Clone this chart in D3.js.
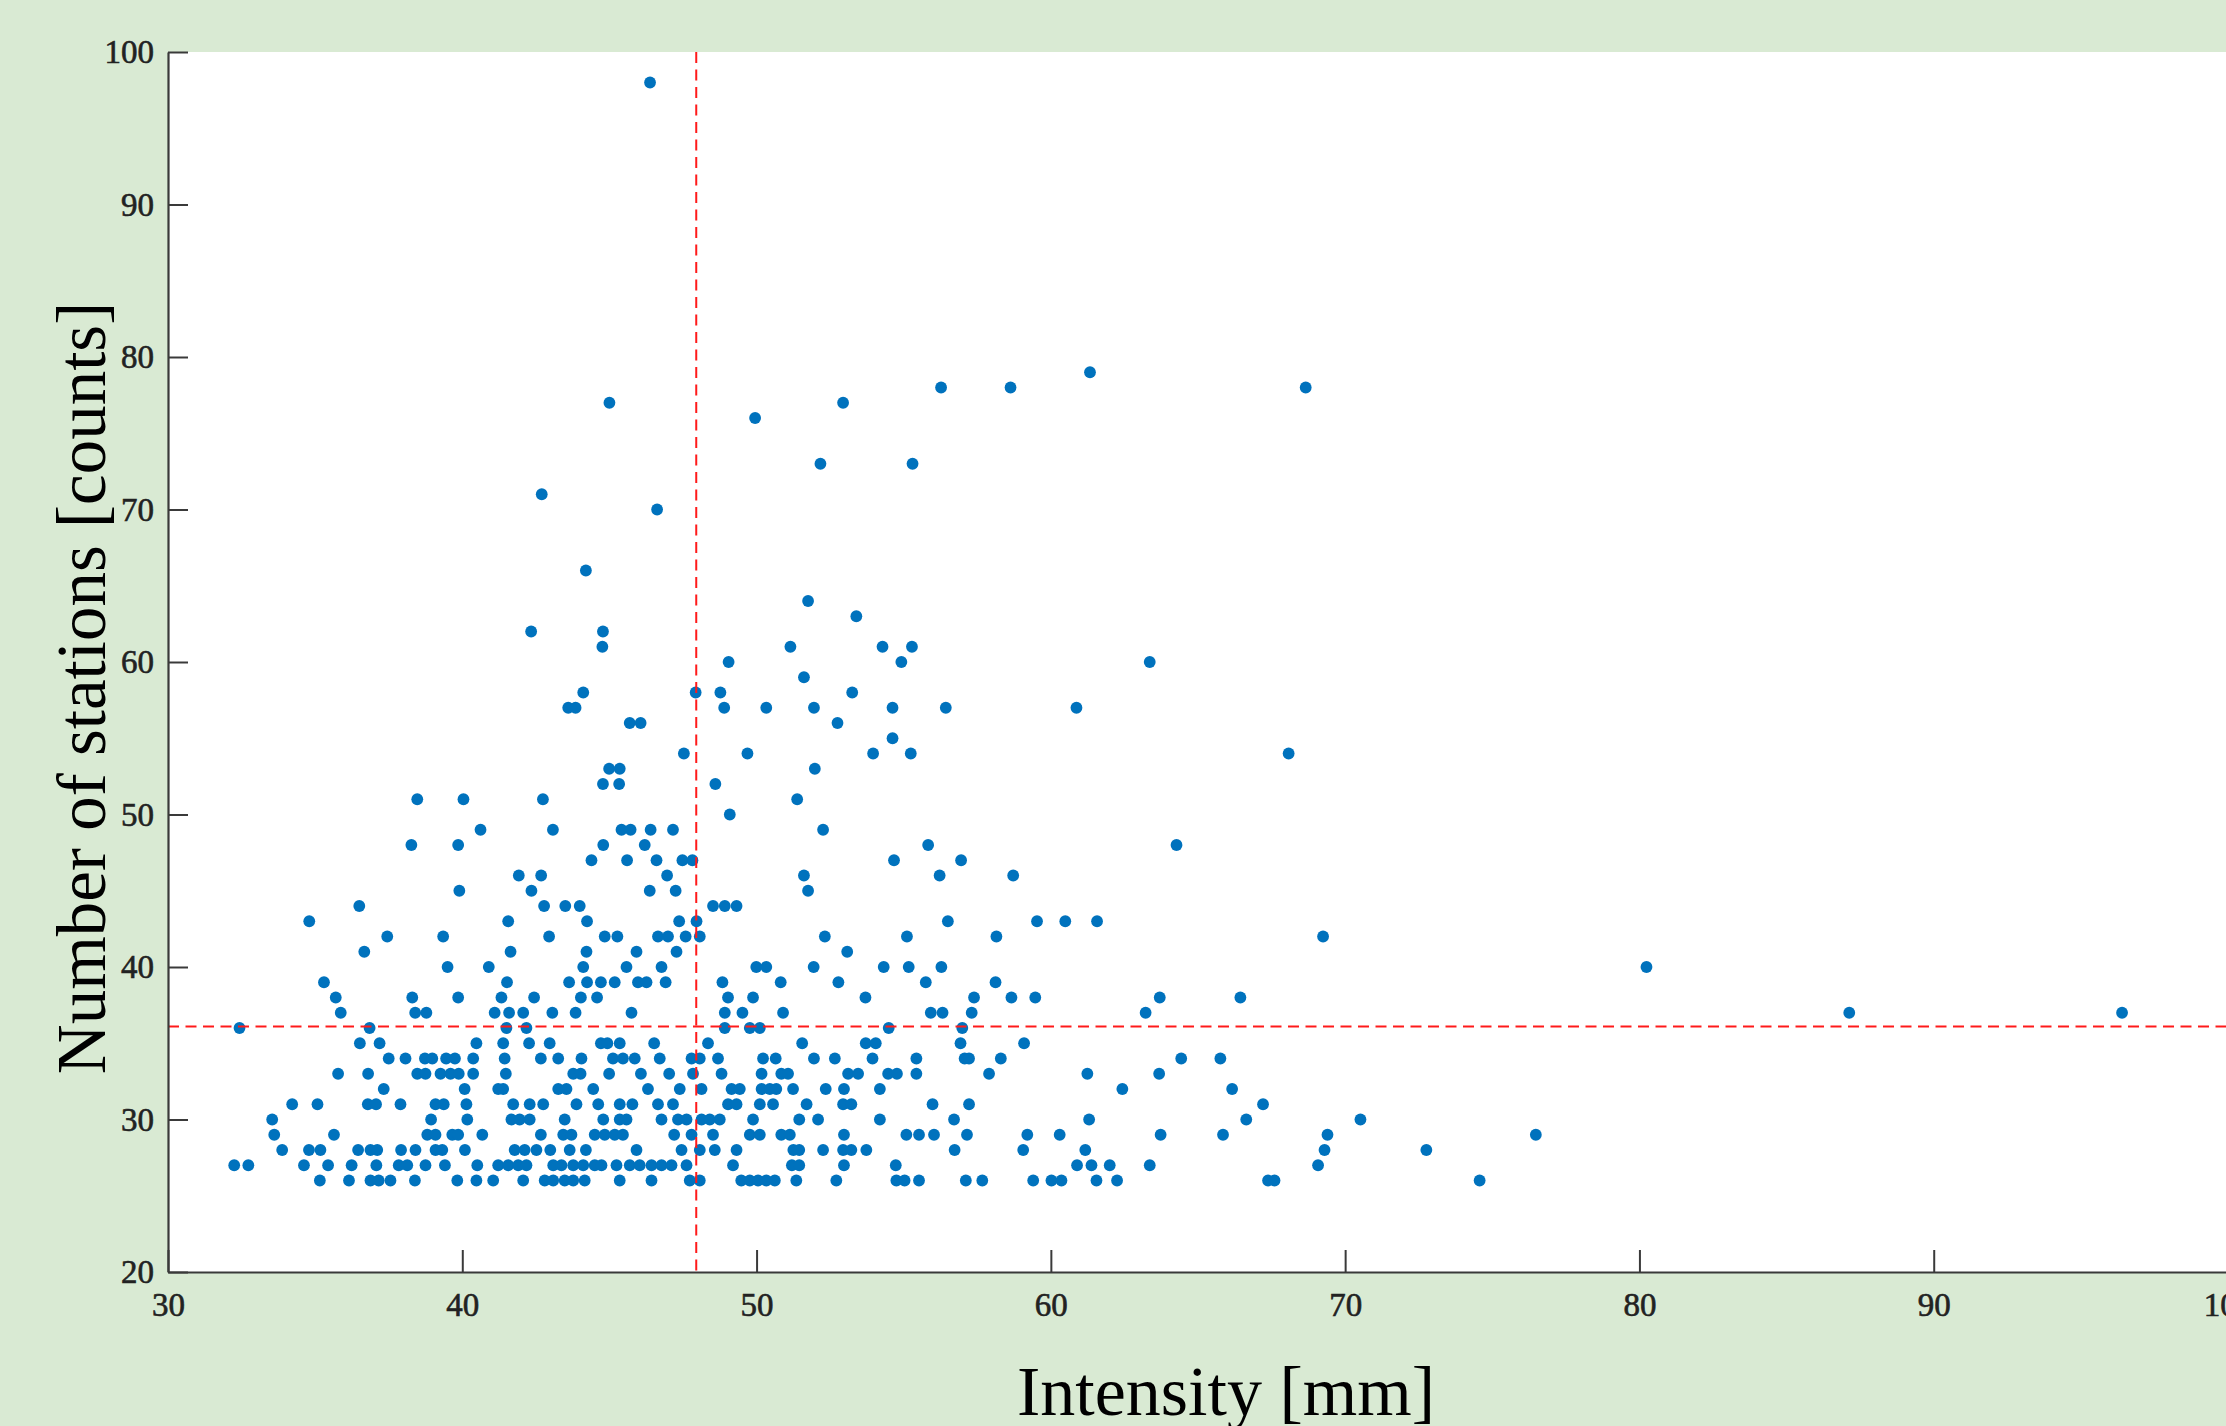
<!DOCTYPE html>
<html>
<head>
<meta charset="utf-8">
<script src="https://cdn.jsdelivr.net/npm/d3@7"></script>
<style>
  body { margin: 0; background: #d9ead3; overflow: hidden; }
  svg { display: block; }
  .tick text { font-family: "Liberation Serif", "Times New Roman", serif; font-size: 33px; fill: #222; stroke: #222; stroke-width: 0.6px; }
</style>
</head>
<body>
<svg id="chart" width="2226" height="1426"></svg>
<script>
// station counts (y) and the intensities (x) read for each count
const stationCounts = [26, 27, 28, 29, 30, 31, 32, 33, 34, 35, 36, 37, 38, 39, 40, 41, 42, 43, 44, 45,
  46, 47, 48, 49, 50, 51, 52, 53, 54, 55, 56, 57, 58, 59, 60, 61, 62, 63, 64, 66, 70, 71, 73, 76, 77, 78, 79, 98];

const intensityRows = [
  /*26*/ [35.16, 36.15, 36.88, 37.16, 37.56, 38.39, 39.83, 40.48, 41.05, 42.07, 42.8, 43.09, 43.48, 43.77, 44.16, 45.35, 46.43, 47.73, 48.07, 49.48, 49.77, 50.05, 50.33, 50.62, 51.35, 52.71, 54.75, 55.03, 55.52, 57.11, 57.67, 59.4, 60.02, 60.36, 61.55, 62.25, 67.38, 67.6, 74.57],
  /*27*/ [32.25, 32.73, 34.62, 35.44, 36.24, 37.08, 37.84, 38.13, 38.75, 39.41, 40.51, 41.22, 41.56, 41.9, 42.18, 43.09, 43.37, 43.77, 44.11, 44.5, 44.73, 45.24, 45.69, 46.03, 46.43, 46.77, 47.11, 47.62, 49.2, 51.2, 51.45, 52.97, 54.73, 60.89, 61.38, 62.0, 63.36, 69.08],
  /*28*/ [33.88, 34.79, 35.18, 36.46, 36.88, 37.11, 37.92, 38.41, 39.09, 39.32, 40.09, 41.78, 42.12, 42.52, 42.99, 43.65, 44.2, 45.92, 47.45, 48.07, 48.58, 49.32, 51.25, 51.45, 52.26, 52.94, 53.22, 53.73, 56.73, 59.06, 61.17, 69.3, 72.76],
  /*29*/ [33.61, 35.64, 38.81, 39.09, 39.66, 39.86, 40.68, 42.67, 43.43, 43.71, 44.5, 44.84, 45.18, 45.46, 47.2, 47.79, 48.52, 49.77, 50.11, 50.84, 51.13, 52.97, 55.09, 55.52, 56.03, 57.15, 59.2, 60.3, 63.73, 65.85, 69.4, 76.48],
  /*30*/ [33.54, 38.94, 40.17, 41.67, 41.95, 42.29, 43.48, 44.79, 45.35, 45.58, 46.77, 47.33, 47.62, 48.13, 48.41, 48.75, 49.88, 51.45, 52.09, 54.19, 56.71, 61.3, 66.64, 70.52],
  /*31*/ [34.22, 35.08, 36.79, 37.07, 37.9, 39.09, 39.37, 40.14, 41.73, 42.29, 42.75, 43.88, 44.62, 45.35, 45.78, 46.65, 47.16, 49.03, 49.32, 50.11, 50.56, 51.7, 52.94, 53.22, 55.98, 57.22, 67.21],
  /*32*/ [37.33, 40.08, 41.22, 41.39, 43.26, 43.54, 44.45, 46.31, 47.39, 48.13, 49.15, 49.43, 50.17, 50.45, 50.67, 51.24, 52.35, 52.97, 54.19, 62.43, 66.16],
  /*33*/ [35.78, 36.8, 38.47, 38.75, 39.26, 39.6, 39.88, 40.37, 41.48, 43.77, 44.02, 44.99, 46.07, 47.03, 47.84, 48.81, 50.17, 50.84, 51.07, 53.11, 53.45, 54.47, 54.77, 55.43, 57.9, 61.24, 63.68],
  /*34*/ [37.5, 38.07, 38.73, 38.98, 39.45, 39.75, 40.37, 41.44, 42.67, 43.26, 44.05, 45.12, 45.46, 45.86, 46.71, 47.79, 48.07, 48.69, 50.22, 50.65, 51.95, 52.66, 53.94, 55.43, 57.07, 57.22, 58.3, 64.43, 65.76],
  /*35*/ [36.52, 37.19, 40.48, 41.39, 42.27, 42.97, 44.71, 44.93, 45.35, 46.52, 48.35, 51.55, 53.71, 54.05, 56.93, 59.09],
  /*36*/ [32.43, 36.85, 41.5, 42.18, 48.92, 49.77, 50.11, 54.49, 56.99],
  /*37*/ [35.87, 38.4, 38.78, 41.1, 41.59, 42.07, 43.06, 43.85, 45.75, 48.92, 49.52, 50.9, 55.92, 56.32, 57.31, 63.22, 87.13, 96.4],
  /*38*/ [35.7, 38.3, 39.86, 41.33, 42.44, 44.03, 44.58, 49.03, 49.88, 53.7, 57.39, 58.66, 59.47, 63.7, 66.44],
  /*39*/ [35.3, 41.52, 43.63, 44.24, 44.71, 45.18, 45.97, 46.26, 46.91, 48.84, 50.82, 52.78, 55.75, 58.12],
  /*40*/ [39.5, 40.9, 44.11, 45.58, 46.77, 49.99, 50.33, 51.94, 54.32, 55.17, 56.28, 80.24],
  /*41*/ [36.67, 41.64, 44.22, 45.92, 47.28, 53.08],
  /*42*/ [37.45, 39.35, 42.95, 44.84, 45.27, 46.65, 46.99, 47.59, 48.07, 52.32, 55.11, 58.15, 69.25],
  /*43*/ [34.8, 41.56, 44.24, 47.37, 47.96, 56.5, 59.53, 60.49, 61.57],
  /*44*/ [36.5, 42.78, 43.5, 43.99, 48.52, 48.92, 49.32],
  /*45*/ [39.9, 42.35, 46.37, 47.25, 51.75],
  /*46*/ [41.92, 42.68, 46.96, 51.61, 56.22, 58.72],
  /*47*/ [44.39, 45.6, 46.6, 47.48, 47.82, 54.67, 56.95],
  /*48*/ [38.27, 39.86, 44.79, 46.2, 55.83, 64.27],
  /*49*/ [40.62, 43.08, 45.41, 45.72, 46.4, 47.16, 52.26],
  /*50*/ [49.09],
  /*51*/ [38.47, 40.04, 42.74, 51.38],
  /*52*/ [44.78, 45.33, 48.6],
  /*53*/ [44.99, 45.35, 51.98],
  /*54*/ [47.53, 49.69, 53.96, 55.24, 68.08],
  /*55*/ [54.62],
  /*56*/ [45.69, 46.06, 52.75],
  /*57*/ [43.6, 43.85, 48.9, 50.33, 51.95, 54.62, 56.43, 60.87],
  /*58*/ [44.11, 47.93, 48.77, 53.25],
  /*59*/ [51.61],
  /*60*/ [49.05, 54.92, 63.36],
  /*61*/ [44.76, 51.15, 54.28, 55.28],
  /*62*/ [42.34, 44.78],
  /*63*/ [53.39],
  /*64*/ [51.75],
  /*66*/ [44.2],
  /*70*/ [46.62],
  /*71*/ [42.7],
  /*73*/ [52.17, 55.3],
  /*76*/ [49.95],
  /*77*/ [45.0, 52.94],
  /*78*/ [56.27, 58.63, 68.66],
  /*79*/ [61.33],
  /*98*/ [46.38]
];

const xTicks = [30, 40, 50, 60, 70, 80, 90, 100];
const yTicks = [20, 30, 40, 50, 60, 70, 80, 90, 100];
const meanIntensity = 47.95;
const meanStations = 36.1;

const points = [];
stationCounts.forEach((c, i) => intensityRows[i].forEach(v => points.push({ x: v, y: c })));

const svg = d3.select("#chart");
const font = '"Liberation Serif", "Times New Roman", serif';

const x = d3.scaleLinear().domain([30, 100]).range([168, 2228]);
const y = d3.scaleLinear().domain([20, 100]).range([1272, 52]);

// white plot area
svg.append("rect")
  .attr("x", x(30)).attr("y", y(100))
  .attr("width", x(100) - x(30)).attr("height", y(20) - y(100))
  .attr("fill", "#fff");

// scatter
svg.append("g")
  .selectAll("circle")
  .data(points)
  .enter()
  .append("circle")
  .attr("cx", d => x(d.x))
  .attr("cy", d => y(d.y))
  .attr("r", 5.9)
  .attr("fill", "#0072bd");

// dashed mean lines
svg.append("line")
  .attr("x1", x(meanIntensity)).attr("x2", x(meanIntensity))
  .attr("y1", y(100)).attr("y2", y(20))
  .attr("stroke", "#ff1a1a").attr("stroke-width", 2)
  .attr("stroke-dasharray", "11,6.5");
svg.append("line")
  .attr("x1", x(30)).attr("x2", x(100))
  .attr("y1", y(meanStations)).attr("y2", y(meanStations))
  .attr("stroke", "#ff1a1a").attr("stroke-width", 2)
  .attr("stroke-dasharray", "11,6.5");

// axes, ticks pointing inward
const xAxis = svg.append("g")
  .attr("transform", `translate(0,${y(20)})`)
  .call(d3.axisBottom(x).tickValues(xTicks).tickSizeInner(-22).tickSizeOuter(0).tickPadding(21));
const yAxis = svg.append("g")
  .attr("transform", `translate(${x(30)},0)`)
  .call(d3.axisLeft(y).tickValues(yTicks).tickSizeInner(-20).tickSizeOuter(0).tickPadding(14));

[xAxis, yAxis].forEach(g => {
  g.select(".domain").attr("stroke", "#3a3a3a").attr("stroke-width", 2.2);
  g.selectAll(".tick line").attr("stroke", "#3a3a3a").attr("stroke-width", 2);
});

// axis titles
svg.append("text")
  .attr("x", 1226).attr("y", 1415)
  .attr("text-anchor", "middle")
  .style("font-family", font).style("font-size", "70px").attr("fill", "#000")
  .text("Intensity [mm]");

svg.append("text")
  .attr("transform", "translate(105,688) rotate(-90)")
  .attr("text-anchor", "middle")
  .style("font-family", font).style("font-size", "69px").attr("fill", "#000")
  .text("Number of stations [counts]");
</script>
</body>
</html>
